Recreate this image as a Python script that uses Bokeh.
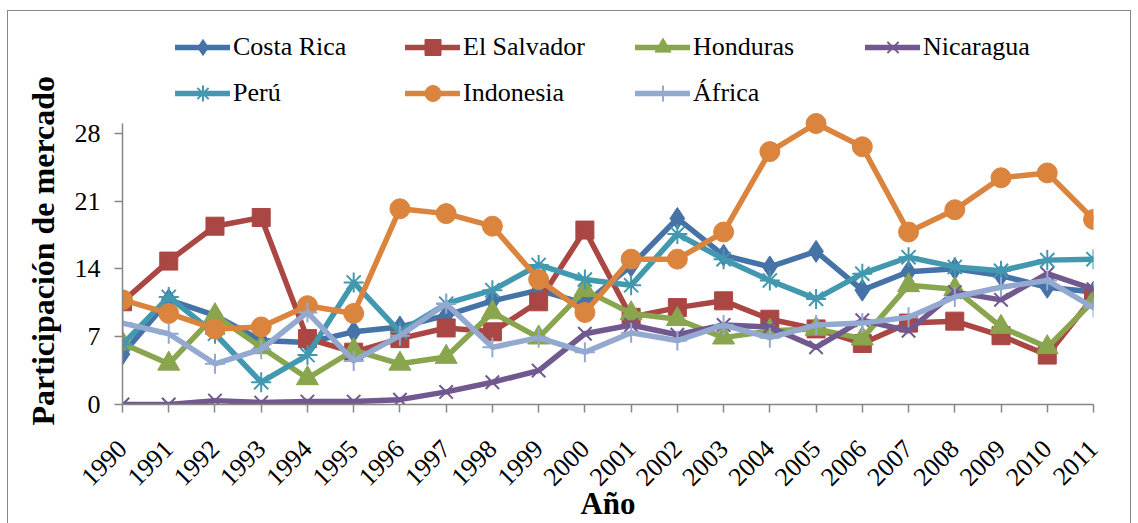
import numpy as np
from bokeh.plotting import figure
from bokeh.models import Legend, LegendItem, FixedTicker, Range1d, ColumnDataSource, Title
from bokeh.embed import file_html
from bokeh.resources import INLINE

years = list(range(1990, 2012))
y_ticks = [0, 7, 14, 21, 28]

costa_rica = [5.2, 10.8, 9.2, 6.6, 6.4, 7.5, 8.0, 9.2, 10.7, 11.8, 10.4, 14.3, 19.2, 15.4, 14.2, 15.8, 11.8, 13.7, 14.0, 13.3, 12.1, 11.6]
el_salvador = [10.6, 14.8, 18.4, 19.3, 6.8, 5.4, 6.8, 7.9, 7.5, 10.6, 18.0, 9.0, 10.0, 10.7, 8.8, 7.8, 6.3, 8.4, 8.6, 7.1, 5.1, 11.1]
honduras = [6.3, 4.2, 9.2, 5.9, 2.7, 5.6, 4.2, 4.9, 9.5, 6.9, 11.8, 9.4, 8.8, 6.9, 7.6, 7.8, 6.8, 12.3, 11.9, 8.0, 5.9, 10.7]
nicaragua = [0.0, 0.0, 0.4, 0.2, 0.3, 0.3, 0.5, 1.3, 2.3, 3.5, 7.3, 8.2, 7.2, 8.2, 8.0, 5.9, 8.7, 7.6, 11.6, 10.8, 13.5, 11.9]
peru = [6.2, 11.1, 7.3, 2.3, 5.1, 12.6, 7.5, 10.4, 11.8, 14.4, 12.9, 12.3, 17.6, 15.0, 12.8, 10.9, 13.5, 15.2, 14.2, 13.8, 14.9, 15.0]
indonesia = [10.8, 9.4, 7.8, 8.0, 10.2, 9.4, 20.2, 19.7, 18.4, 12.9, 9.5, 15.0, 15.0, 17.8, 26.1, 29.0, 26.6, 17.8, 20.1, 23.4, 23.9, 19.1]
africa = [8.4, 7.3, 4.2, 5.7, 9.5, 4.5, 7.1, 10.4, 5.9, 6.9, 5.4, 7.4, 6.6, 8.2, 6.9, 8.2, 8.4, 9.0, 11.1, 12.1, 12.8, 10.0]

series = [
    ("Costa Rica", costa_rica, "#4572A7", dict(marker="diamond", size=22, line_width=1)),
    ("El Salvador", el_salvador, "#AA4643", dict(marker="square", size=18, line_width=1)),
    ("Honduras", honduras, "#89A54E", dict(marker="triangle", size=22, line_width=1)),
    ("Nicaragua", nicaragua, "#71588F", dict(marker="x", size=19, line_width=2)),
    ("Perú", peru, "#4198AF", dict(marker="asterisk", size=20, line_width=2)),
    ("Indonesia", indonesia, "#DB843D", dict(marker="circle", size=20, line_width=1)),
    ("África", africa, "#93A9CF", dict(marker="cross", size=20, line_width=2)),
]

FONT = "'Liberation Serif'"

p = figure(frame_width=971, frame_height=384,
           x_range=Range1d(1990, 2011), y_range=Range1d(0, 39.63),
           output_backend="svg", toolbar_location=None,
           min_border_left=114, min_border_right=37,
           min_border_top=9, min_border_bottom=117)
p.styles = {"border": "1px solid #868686", "margin-left": "7px", "margin-top": "10px"}
p.outline_line_color = None
p.xgrid.visible = False
p.ygrid.visible = False
p.background_fill_color = "white"
p.border_fill_color = "white"

items = []
for name, vals, color, mk in series:
    src = ColumnDataSource(dict(x=years, y=vals))
    r1 = p.line("x", "y", source=src, line_color=color, line_width=5.5, line_join="round", line_cap="round")
    r2 = p.scatter("x", "y", source=src, marker=mk["marker"], size=mk["size"],
                   fill_color=color, line_color=color, line_width=mk["line_width"])
    items.append(LegendItem(label=name, renderers=[r1, r2]))

legend = Legend(items=items, location=(53, 291), orientation="horizontal", ncols=4,
                glyph_width=55, glyph_height=40, label_standoff=3, label_width=166,
                spacing=6, padding=0, margin=0,
                label_text_font=FONT, label_text_font_size="26px", label_text_color="black",
                background_fill_alpha=0, border_line_color=None)
p.add_layout(legend)

for ax in (p.xaxis[0], p.yaxis[0]):
    ax.axis_line_color = "#868686"
    ax.axis_line_width = 1.5
    ax.major_tick_line_color = "#868686"
    ax.major_tick_line_width = 1.5
    ax.major_tick_in = 0
    ax.major_tick_out = 8
    ax.minor_tick_line_color = None
    ax.major_label_text_font = FONT
    ax.major_label_text_font_size = "26px"
    ax.major_label_text_color = "black"
    ax.axis_label_text_font = FONT
    ax.axis_label_text_font_size = "31px"
    ax.axis_label_text_font_style = "bold"
    ax.axis_label_text_color = "black"

p.yaxis.ticker = FixedTicker(ticks=y_ticks)
p.yaxis.bounds = (0, 29)
p.yaxis.major_label_standoff = 14

ytitle = Title(text="Participación de mercado", align="left", offset=-21,
               text_font=FONT, text_font_size="32px", text_font_style="bold",
               text_color="black", standoff=22)
p.add_layout(ytitle, "left")

p.xaxis.ticker = FixedTicker(ticks=years)
p.xaxis.major_label_orientation = np.pi / 4
p.xaxis.major_label_standoff = 32
p.xaxis.axis_label = "Año"
p.xaxis.axis_label_standoff = -10

open("out.html", "w").write(file_html(p, INLINE))
